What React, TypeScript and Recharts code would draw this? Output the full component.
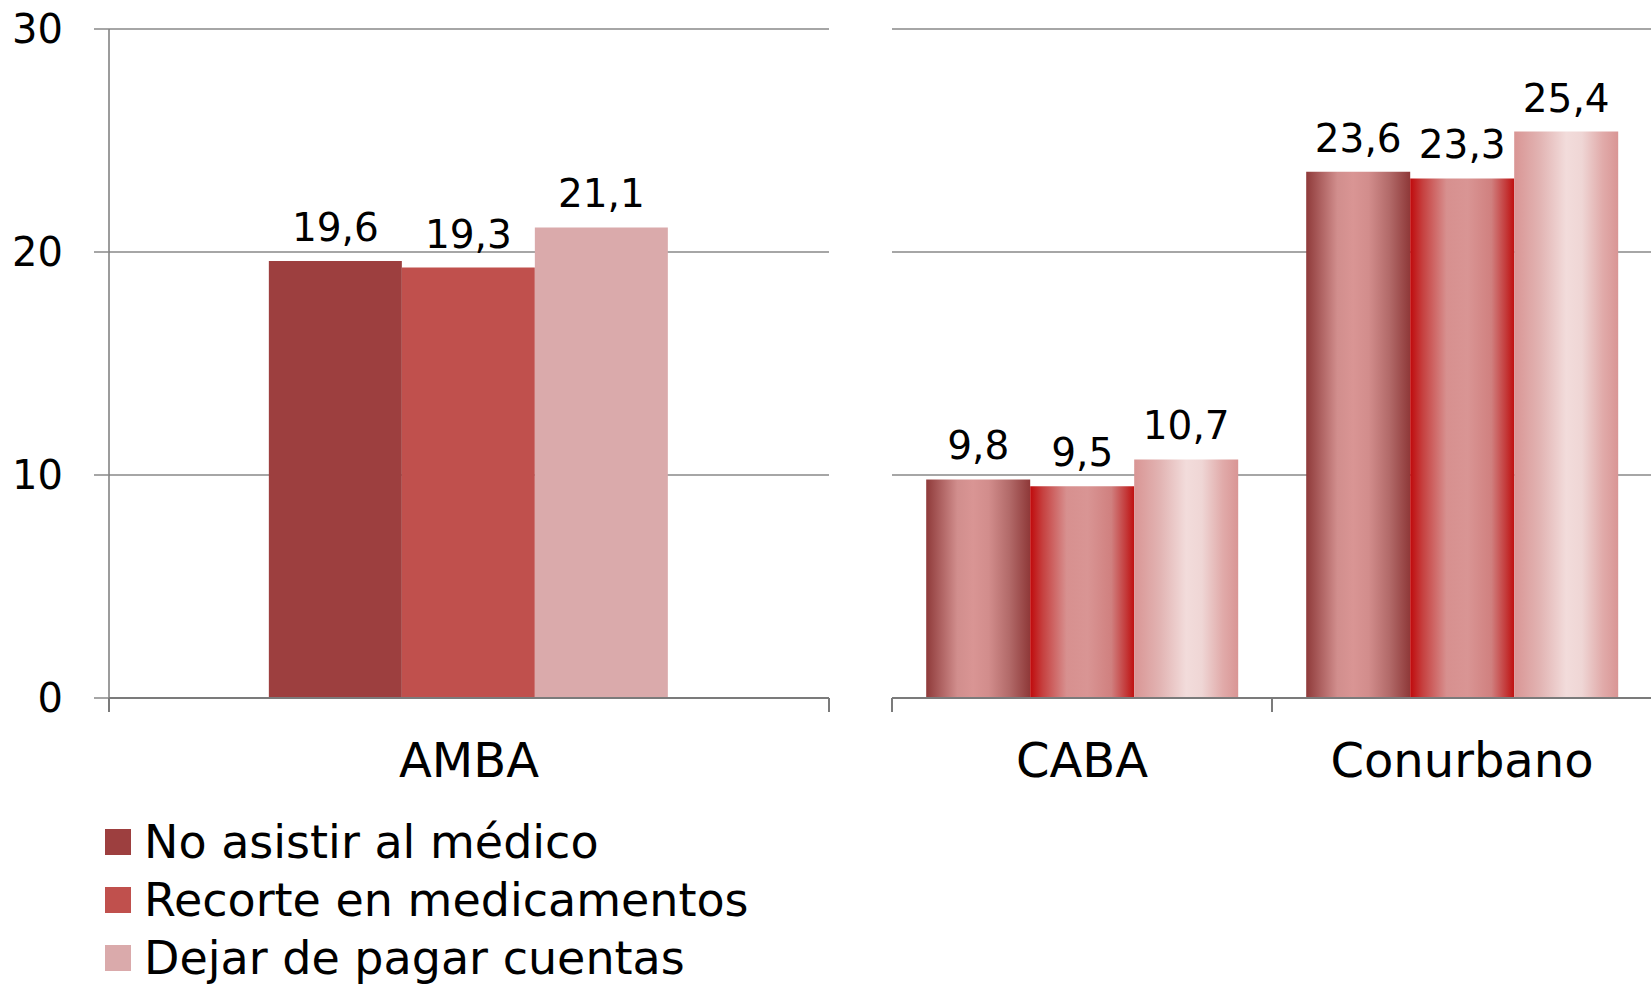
import React from 'react';
import { BarChart, Bar, XAxis, YAxis, CartesianGrid, LabelList, Legend } from 'recharts';

const categories = ['AMBA', 'CABA', 'Conurbano'];
const noAsistir = [19.6, 9.8, 23.6];
const recorte = [19.3, 9.5, 23.3];
const dejarPagar = [21.1, 10.7, 25.4];
const seriesNames = ['No asistir al médico', 'Recorte en medicamentos', 'Dejar de pagar cuentas'];
const yTicks = [0, 10, 20, 30];

const solidColors = ['#9D3F3F', '#C0504D', '#DAAAAB'];

const rows = categories.map((c, i) => ({ name: c, s1: noAsistir[i], s2: recorte[i], s3: dejarPagar[i] }));
const leftData = rows.slice(0, 1);
const rightData = rows.slice(1);

const FONT = '"DejaVu Sans", sans-serif';
const GRID = '#898989';
const AXIS = '#7B7B7B';

const fmt = (v: any) => (typeof v === 'number' ? v.toFixed(1).replace('.', ',') : v);

const CatTick = (props: any) => {
  const { x, y, payload } = props;
  const off = payload && payload.offset ? payload.offset : 0;
  return (
    <g>
      <line x1={x - off} x2={x - off} y1={y} y2={y + 14} stroke={AXIS} strokeWidth={2} />
      <line x1={x + off} x2={x + off} y1={y} y2={y + 14} stroke={AXIS} strokeWidth={2} />
      <text x={x} y={y + 79} textAnchor="middle" fontSize={48} fontFamily={FONT} fill="#000">
        {payload.value}
      </text>
    </g>
  );
};

const renderLegend = (props: any) => {
  const payload = [...(props.payload || [])].sort(
    (a: any, b: any) => seriesNames.indexOf(a.value) - seriesNames.indexOf(b.value)
  );
  return (
    <div style={{ fontFamily: FONT }}>
      {payload.map((p: any, i: number) => (
        <div key={i} style={{ display: 'flex', alignItems: 'center', height: 58 }}>
          <div style={{ width: 26, height: 26, background: p.color, marginLeft: 5, marginRight: 13 }} />
          <span style={{ fontSize: 46, lineHeight: '58px', color: '#000', whiteSpace: 'nowrap' }}>{p.value}</span>
        </div>
      ))}
    </div>
  );
};

const labelStyle = { fontSize: 39, fontFamily: FONT, fill: '#000' };

export default function App() {
  return (
    <div style={{ position: 'absolute', left: 0, top: 0, width: 1651, height: 985, background: '#fff', overflow: 'hidden' }}>
      <div style={{ position: 'absolute', left: 0, top: 0 }}>
        <BarChart
          width={860}
          height={985}
          data={leftData}
          margin={{ top: 29, right: 31, left: 0, bottom: 197 }}
          barCategoryGap="22.2%"
          barGap={0}
        >
          <CartesianGrid vertical={false} stroke={GRID} strokeWidth={1.5} />
          <XAxis
            dataKey="name"
            height={90}
            axisLine={{ stroke: AXIS, strokeWidth: 2 }}
            tickLine={false}
            tickSize={0}
            tickMargin={0}
            tick={<CatTick />}
            interval={0}
          />
          <YAxis
            width={109}
            domain={[0, 30]}
            ticks={yTicks}
            tickSize={15}
            tickMargin={31}
            axisLine={{ stroke: AXIS, strokeWidth: 1.5 }}
            tickLine={{ stroke: GRID, strokeWidth: 1.5 }}
            tick={{ fontSize: 40, fontFamily: FONT, fill: '#000' }}
            tickFormatter={(v: number) => String(v)}
          />
          <Legend
            layout="horizontal"
            verticalAlign="middle"
            align="center"
            itemSorter={null as any}
            wrapperStyle={{ left: 100, top: 813, width: 800, height: 175 }}
            content={renderLegend}
          />
          <Bar dataKey="s1" name={seriesNames[0]} fill={solidColors[0]} isAnimationActive={false}>
            <LabelList dataKey="s1" position="top" offset={20} formatter={fmt} style={labelStyle} />
          </Bar>
          <Bar dataKey="s2" name={seriesNames[1]} fill={solidColors[1]} isAnimationActive={false}>
            <LabelList dataKey="s2" position="top" offset={20} formatter={fmt} style={labelStyle} />
          </Bar>
          <Bar dataKey="s3" name={seriesNames[2]} fill={solidColors[2]} isAnimationActive={false}>
            <LabelList dataKey="s3" position="top" offset={20} formatter={fmt} style={labelStyle} />
          </Bar>
        </BarChart>
      </div>
      <div style={{ position: 'absolute', left: 880, top: 0 }}>
        <BarChart
          width={772}
          height={985}
          data={rightData}
          margin={{ top: 29, right: 0, left: 12, bottom: 197 }}
          barCategoryGap="9%"
          barGap={0}
        >
          <defs>
            <linearGradient id="g1" x1="0" y1="0" x2="1" y2="0">
              <stop offset="0" stopColor="#8F3A3A" />
              <stop offset="0.3" stopColor="#D18E8D" />
              <stop offset="0.45" stopColor="#D99594" />
              <stop offset="0.6" stopColor="#D28D8C" />
              <stop offset="0.8" stopColor="#B26A69" />
              <stop offset="1" stopColor="#8E3838" />
            </linearGradient>
            <linearGradient id="g2" x1="0" y1="0" x2="1" y2="0">
              <stop offset="0" stopColor="#C00A0C" />
              <stop offset="0.12" stopColor="#C6403F" />
              <stop offset="0.35" stopColor="#D7908F" />
              <stop offset="0.55" stopColor="#D99594" />
              <stop offset="0.78" stopColor="#D0807F" />
              <stop offset="0.92" stopColor="#C43A3A" />
              <stop offset="1" stopColor="#C0100F" />
            </linearGradient>
            <linearGradient id="g3" x1="0" y1="0" x2="1" y2="0">
              <stop offset="0" stopColor="#D99594" />
              <stop offset="0.25" stopColor="#E2B4B3" />
              <stop offset="0.5" stopColor="#F2DCDB" />
              <stop offset="0.65" stopColor="#EFD6D5" />
              <stop offset="0.85" stopColor="#E1ABAA" />
              <stop offset="1" stopColor="#D99594" />
            </linearGradient>
          </defs>
          <CartesianGrid vertical={false} stroke={GRID} strokeWidth={1.5} />
          <XAxis
            dataKey="name"
            height={90}
            axisLine={{ stroke: AXIS, strokeWidth: 2 }}
            tickLine={false}
            tickSize={0}
            tickMargin={0}
            tick={<CatTick />}
            interval={0}
          />
          <YAxis hide domain={[0, 30]} ticks={yTicks} />
          <Bar dataKey="s1" name={seriesNames[0]} fill="url(#g1)" isAnimationActive={false}>
            <LabelList dataKey="s1" position="top" offset={20} formatter={fmt} style={labelStyle} />
          </Bar>
          <Bar dataKey="s2" name={seriesNames[1]} fill="url(#g2)" isAnimationActive={false}>
            <LabelList dataKey="s2" position="top" offset={20} formatter={fmt} style={labelStyle} />
          </Bar>
          <Bar dataKey="s3" name={seriesNames[2]} fill="url(#g3)" isAnimationActive={false}>
            <LabelList dataKey="s3" position="top" offset={20} formatter={fmt} style={labelStyle} />
          </Bar>
        </BarChart>
      </div>
    </div>
  );
}
